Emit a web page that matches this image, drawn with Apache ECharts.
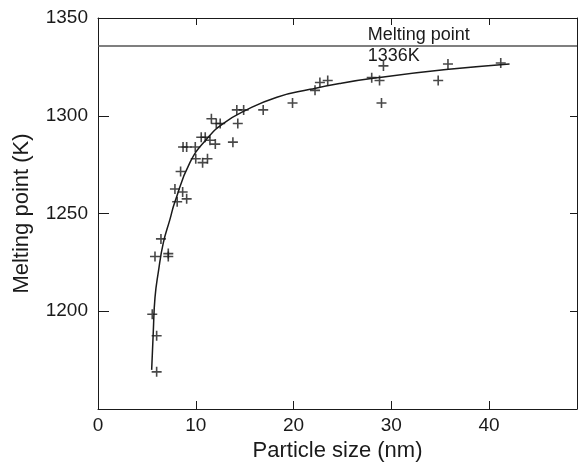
<!DOCTYPE html>
<html>
<head>
<meta charset="utf-8">
<script src="https://cdn.jsdelivr.net/npm/echarts/dist/echarts.min.js"></script>
<style>
  html, body { margin: 0; padding: 0; background: #fff; }
  #chart { width: 579px; height: 464px; }
</style>
</head>
<body>
<div id="chart"></div>
<script>
// measured points (particle size nm, melting point K)
var sizes = [6.0, 6.0, 5.55, 5.83, 6.44, 7.19, 7.19, 7.87, 8.66, 9.07, 8.1, 8.45, 8.7, 9.07, 9.95,
  10.0, 10.7, 11.2, 10.56, 10.97, 11.45, 12.0, 11.6, 12.1, 12.5, 13.8, 14.2, 14.9, 14.3, 16.9,
  19.9, 22.2, 22.7, 23.5, 28.0, 28.8, 29.2, 29.0, 34.8, 35.8, 41.2];
var temps = [1169, 1187.5, 1198.5, 1228, 1237, 1229.5, 1228, 1262.5, 1261, 1257.5, 1256, 1271.5, 1284, 1284, 1284,
  1278, 1276, 1278, 1289, 1289, 1287.5, 1285.5, 1298.5, 1296, 1296, 1286.5, 1303, 1303, 1296, 1303,
  1306.5, 1313, 1317, 1318, 1319.5, 1318, 1325.5, 1306.5, 1318, 1326.5, 1327];

// fitted curve
var fitSizes = [5.49, 5.66, 5.83, 6.17, 6.68, 7.36, 7.87, 9.4, 11.1, 12.8, 15.2, 18.3, 21.7, 24.7, 28.5, 35.6, 42.1];
var fitTemps = [1170, 1190, 1207, 1220, 1235, 1247, 1256, 1276, 1288, 1296, 1303, 1309.5, 1313.5, 1316.5, 1319.4, 1323.6, 1326.5];

var yTicks = [1200, 1250, 1300, 1350];
var meltingPoint = 1336;

var chart = echarts.init(document.getElementById('chart'));
var ink = '#1a1a1a';
var font = 'Liberation Sans';

var pts = sizes.map(function (s, i) { return [s, temps[i]]; });
var fit = fitSizes.map(function (s, i) { return [s, fitTemps[i]]; });

var plus = 'path://M0,4.2H10V5.8H0Z M4.2,0H5.8V10H4.2Z';

var option = {
  animation: false,
  backgroundColor: '#fff',
  grid: { left: 98, right: 2, top: 18, bottom: 55, outerBoundsMode: 'none', containLabel: false },
  xAxis: [
    {
      type: 'value', min: 0, max: 49, interval: 10, position: 'bottom',
      name: 'Particle size (nm)', nameLocation: 'middle', nameGap: 27,
      nameTextStyle: { color: ink, fontSize: 22, fontFamily: font },
      axisLine: { show: true, onZero: false, lineStyle: { color: ink, width: 1 } },
      axisTick: { show: true, inside: true, length: 8, lineStyle: { color: ink } },
      axisLabel: { color: ink, fontSize: 19, fontFamily: font, margin: 7, showMaxLabel: false },
      splitLine: { show: false }
    },
    {
      type: 'value', min: 0, max: 49, interval: 10, position: 'top',
      axisLine: { show: true, onZero: false, lineStyle: { color: ink, width: 1 } },
      axisTick: { show: true, inside: true, length: 7, lineStyle: { color: ink } },
      axisLabel: { show: false },
      splitLine: { show: false }
    }
  ],
  yAxis: [
    {
      type: 'value', min: 1150, max: 1350, interval: 50, position: 'left',
      name: 'Melting point (K)', nameLocation: 'middle', nameGap: 65,
      nameTextStyle: { color: ink, fontSize: 22, fontFamily: font },
      axisLine: { show: true, onZero: false, lineStyle: { color: ink, width: 1 } },
      axisTick: { show: true, inside: true, length: 11, lineStyle: { color: ink } },
      axisLabel: {
        color: ink, fontSize: 19, fontFamily: font, margin: 10,
        formatter: function (v) { return yTicks.indexOf(v) >= 0 ? String(v) : ''; }
      },
      splitLine: { show: false }
    },
    {
      type: 'value', min: 1150, max: 1350, interval: 50, position: 'right',
      axisLine: { show: true, onZero: false, lineStyle: { color: ink, width: 1 } },
      axisTick: { show: true, inside: true, length: 7, lineStyle: { color: ink } },
      axisLabel: { show: false },
      splitLine: { show: false }
    }
  ],
  series: [
    {
      type: 'scatter',
      data: pts,
      symbol: plus,
      symbolSize: 10,
      itemStyle: { color: ink },
      silent: true
    },
    {
      type: 'line',
      data: fit,
      smooth: true,
      showSymbol: false,
      lineStyle: { color: ink, width: 1.5 },
      silent: true,
      markLine: {
        silent: true,
        symbol: 'none',
        label: { show: false },
        lineStyle: { color: '#555', width: 1.5, type: 'solid' },
        data: [{ yAxis: meltingPoint }]
      },
      markPoint: {
        silent: true,
        symbol: 'circle',
        symbolSize: 0,
        data: [{
          coord: [27.6, meltingPoint],
          label: {
            show: true, position: 'right', distance: 0,
            formatter: 'Melting point\n1336K',
            color: ink, fontSize: 18, fontFamily: font, lineHeight: 21, align: 'left'
          }
        }]
      }
    }
  ]
};

option && chart.setOption(option);
</script>
</body>
</html>
